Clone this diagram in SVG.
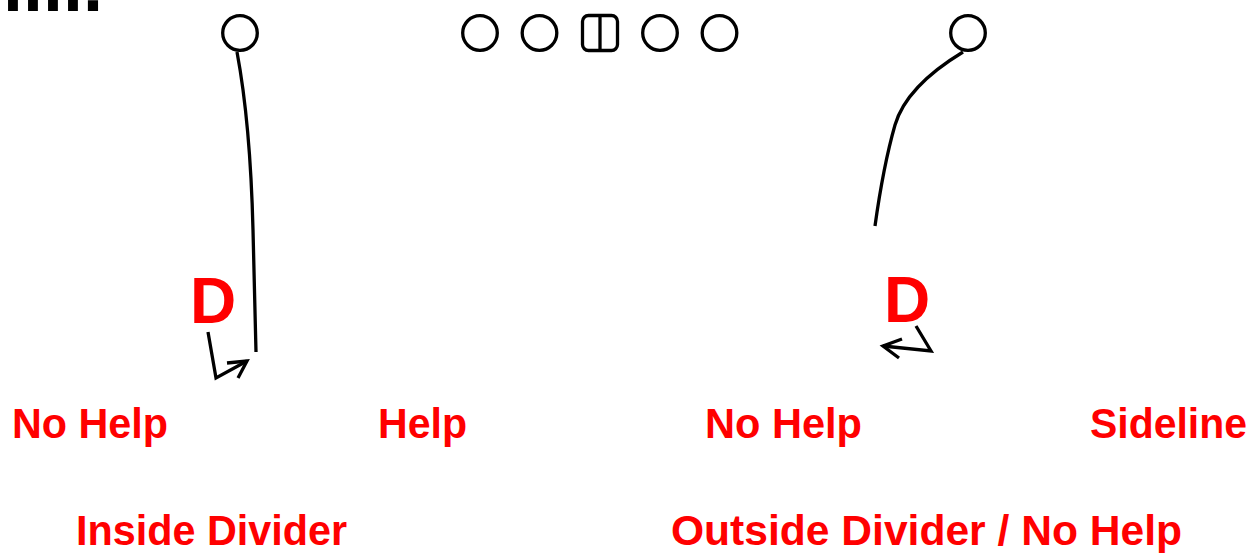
<svg xmlns="http://www.w3.org/2000/svg" width="1258" height="553" viewBox="0 0 1258 553">
<style>
.pl{fill:#fff;stroke:#000;stroke-width:3.3}
.ln{fill:none;stroke:#000;stroke-width:3.3;stroke-linecap:butt;stroke-linejoin:miter}
.lbl{font-family:"Liberation Sans",Arial,sans-serif;font-weight:bold;fill:#ff0000;font-size:42px}
.d{font-family:"Liberation Sans",Arial,sans-serif;font-weight:bold;fill:#ff0000;font-size:64px}
</style>
<rect width="1258" height="553" fill="#fff"/>
<text x="3" y="11" font-family="Liberation Sans, Arial, sans-serif" font-weight="bold" font-size="72" fill="#000">llll.</text>
<g id="connectors">
<path class="ln" d="M237,52 C246,100 251,150 253,230 L256,352"/>
<path class="ln" d="M208,332 L216,378 L247,361"/>
<path class="ln" d="M227,363 L247,361 L238,378"/>
<path class="ln" d="M963,52 C925,75 903,98 895,125 C885,160 880,190 875,226"/>
<path class="ln" d="M916,326 L931,351 L883,346"/>
<path class="ln" d="M902,339 L883,346 L899,358"/>
</g>
<g id="player-left"><circle class="pl" cx="240" cy="33" r="17.3"/></g>
<g id="lineman-1"><circle class="pl" cx="480" cy="33" r="17.3"/></g>
<g id="lineman-2"><circle class="pl" cx="539.5" cy="33" r="17.3"/></g>
<g id="center"><rect class="pl" x="582.5" y="15.5" width="35" height="35" rx="6"/><line class="ln" x1="600" y1="15.5" x2="600" y2="50.5"/></g>
<g id="lineman-4"><circle class="pl" cx="660" cy="33" r="17.3"/></g>
<g id="lineman-5"><circle class="pl" cx="719.5" cy="33" r="17.3"/></g>
<g id="player-right"><circle class="pl" cx="968" cy="33" r="17.3"/></g>
<g id="defender-left"><text class="d" x="190" y="323">D</text></g>
<g id="defender-right"><text class="d" x="884" y="322">D</text></g>
<g id="labels">
<text class="lbl" x="12" y="438" textLength="156" lengthAdjust="spacingAndGlyphs">No Help</text>
<text class="lbl" x="378" y="438" textLength="89" lengthAdjust="spacingAndGlyphs">Help</text>
<text class="lbl" x="705" y="438" textLength="157" lengthAdjust="spacingAndGlyphs">No Help</text>
<text class="lbl" x="1090" y="438" textLength="157" lengthAdjust="spacingAndGlyphs">Sideline</text>
<text class="lbl" x="76" y="545" textLength="271" lengthAdjust="spacingAndGlyphs">Inside Divider</text>
<text class="lbl" x="671" y="545" textLength="511" lengthAdjust="spacingAndGlyphs">Outside Divider / No Help</text>
</g>
</svg>
